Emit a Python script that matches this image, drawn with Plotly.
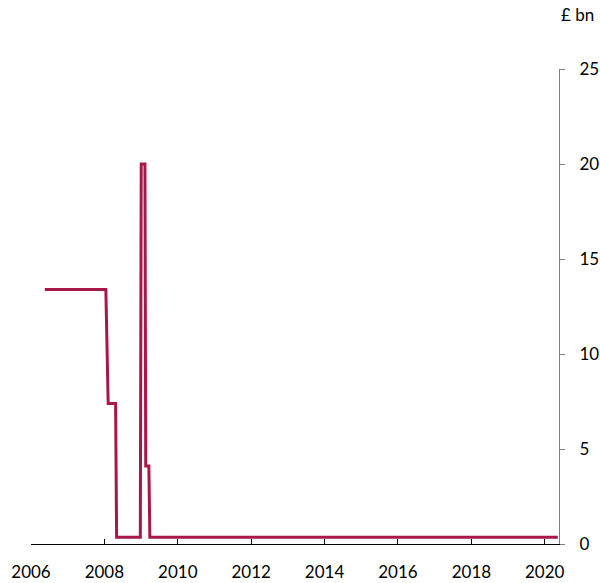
import plotly.graph_objects as go

# Change points of the series (date, £ bn)
dates = [
    "2006-05-19", "2008-01-16", "2008-02-08", "2008-04-22", "2008-05-02",
    "2008-12-24", "2009-01-02", "2009-02-08", "2009-02-16", "2009-03-19",
    "2009-03-29", "2020-05-10",
]
values = [
    13.4, 13.4, 7.4, 7.4, 0.35,
    0.35, 20.0, 20.0, 4.1, 4.1,
    0.35, 0.35,
]
y_ticks = [0, 5, 10, 15, 20, 25]

LINE_COLOR = "#A8174A"
FONT = "Lato"

fig = go.Figure()
fig.add_trace(go.Scatter(
    x=dates, y=values, mode="lines",
    line=dict(color=LINE_COLOR, width=3),
    hoverinfo="skip", showlegend=False,
))

fig.update_layout(
    width=600, height=583,
    margin=dict(l=31, r=41, t=69, b=39, autoexpand=False),
    paper_bgcolor="white", plot_bgcolor="white",
    font=dict(family=FONT, size=17, color="black"),
    xaxis=dict(
        type="date",
        range=["2006-01-01", "2020-05-22"],
        tick0="2006-01-01", dtick="M24", tickformat="%Y",
        ticks="inside", ticklen=5, tickcolor="black", tickwidth=1,
        showline=True, linecolor="black", linewidth=1,
        showgrid=False, zeroline=False,
        ticklabelstandoff=13, automargin=False,
    ),
    yaxis=dict(
        side="right",
        range=[0, 25],
        tickvals=y_ticks,
        ticks="outside", ticklen=5, tickcolor="#808080", tickwidth=1,
        showline=True, linecolor="#808080", linewidth=1,
        showgrid=False, zeroline=False,
        ticklabelstandoff=11, automargin=False,
    ),
    annotations=[dict(
        text="£ bn", xref="paper", yref="paper",
        x=1.0, y=1.0, xanchor="left", yanchor="bottom",
        xshift=0, yshift=42,
        showarrow=False, font=dict(family=FONT, size=17, color="black"),
    )],
)

fig.write_html(
    "out.html",
    config={"displayModeBar": False},
    post_script="document.body.style.margin='0';document.body.style.overflow='hidden';",
)
